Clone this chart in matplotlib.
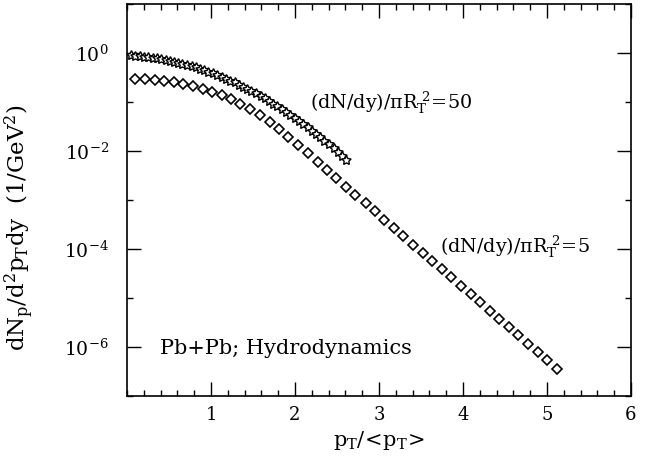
import numpy as np
import matplotlib
matplotlib.use('Agg')
import matplotlib.pyplot as plt
from matplotlib.ticker import FixedLocator, MultipleLocator, LogFormatterSciNotation, NullFormatter

plt.rcParams['font.family'] = ['DejaVu Serif']
plt.rcParams['mathtext.fontset'] = 'dejavuserif'

# (dN/dy)/piR_T^2 = 5 : diamonds
diamond_x = [0.10, 0.21, 0.33, 0.44, 0.56, 0.67, 0.78, 0.90, 1.01, 1.13,
             1.24, 1.35, 1.47, 1.58, 1.70, 1.81, 1.92, 2.04, 2.15, 2.27,
             2.38, 2.49, 2.61, 2.72, 2.84, 2.95, 3.06, 3.18, 3.29, 3.41,
             3.52, 3.63, 3.75, 3.86, 3.98, 4.09, 4.20, 4.32, 4.43, 4.55,
             4.66, 4.77, 4.89, 5.00, 5.12]
diamond_log10y = [-0.53, -0.54, -0.55, -0.58, -0.60, -0.64, -0.68, -0.73, -0.79, -0.86,
                  -0.94, -1.04, -1.15, -1.27, -1.41, -1.55, -1.72, -1.88, -2.05, -2.22,
                  -2.39, -2.56, -2.73, -2.90, -3.07, -3.23, -3.40, -3.57, -3.74, -3.91,
                  -4.08, -4.25, -4.41, -4.58, -4.75, -4.92, -5.09, -5.26, -5.43, -5.60,
                  -5.76, -5.93, -6.10, -6.27, -6.44]

# (dN/dy)/piR_T^2 = 50 : stars
star_x = [0.05, 0.10, 0.15, 0.20, 0.25, 0.31, 0.36, 0.41, 0.46, 0.51,
          0.56, 0.61, 0.66, 0.72, 0.77, 0.82, 0.87, 0.92, 0.97, 1.02,
          1.07, 1.13, 1.18, 1.23, 1.28, 1.33, 1.38, 1.43, 1.48, 1.53,
          1.59, 1.64, 1.69, 1.74, 1.79, 1.84, 1.89, 1.94, 2.00, 2.05,
          2.10, 2.15, 2.20, 2.25, 2.30, 2.35, 2.41, 2.46, 2.51, 2.56,
          2.61]
star_log10y = [-0.050, -0.056, -0.063, -0.072, -0.082, -0.094, -0.107, -0.122, -0.138, -0.156,
               -0.175, -0.196, -0.218, -0.242, -0.267, -0.294, -0.322, -0.352, -0.383, -0.416,
               -0.450, -0.486, -0.523, -0.562, -0.602, -0.644, -0.687, -0.732, -0.778, -0.826,
               -0.875, -0.926, -0.978, -1.032, -1.087, -1.144, -1.202, -1.262, -1.323, -1.386,
               -1.450, -1.516, -1.583, -1.652, -1.722, -1.794, -1.867, -1.942, -2.018, -2.096,
               -2.175]

fig = plt.figure(figsize=(6.56, 4.62), dpi=100)
ax = fig.add_axes([127 / 656, 66 / 462, 504 / 656, 392 / 462])

ax.plot(diamond_x, 10.0 ** np.array(diamond_log10y), ls='none', marker='D', ms=5.4,
        mfc='white', mec='black', mew=1.2)
ax.plot(star_x, 10.0 ** np.array(star_log10y), ls='none', marker=(5, 1, 0), ms=7,
        mfc='white', mec='black', mew=1.0)

ax.set_yscale('log')
ax.set_xlim(0, 6)
ax.set_ylim(1e-7, 10)

ax.xaxis.set_major_locator(FixedLocator([1, 2, 3, 4, 5, 6]))
ax.xaxis.set_minor_locator(MultipleLocator(0.2))
ax.yaxis.set_major_locator(FixedLocator([1e-6, 1e-4, 1e-2, 1e0]))
ax.yaxis.set_minor_locator(FixedLocator([1e-7, 1e-5, 1e-3, 1e-1, 1e1]))
ax.yaxis.set_major_formatter(LogFormatterSciNotation())
ax.yaxis.set_minor_formatter(NullFormatter())

ax.tick_params(which='both', direction='in', top=True, right=True, width=1.0)
ax.tick_params(which='major', length=10)
ax.tick_params(which='minor', length=4)
ax.tick_params(axis='x', which='major', labelsize=13, pad=7)
ax.tick_params(axis='y', which='major', labelsize=13.5, pad=13)
for sp in ax.spines.values():
    sp.set_linewidth(1.2)

ax.set_xlabel(r'$\mathregular{p_T/\!<\!p_T\!>}$', fontsize=15, labelpad=4)
ax.set_ylabel(r'$\mathregular{dN_p/d^2p_Tdy\ \ (1/GeV^2)}$', fontsize=16.5)
ax.yaxis.set_label_coords(-0.18, 0.43)

ax.text(2.18, 10 ** -1.02, r'$\mathregular{(dN/dy)/\pi R_T^{\ 2}\!=\!50}$', fontsize=13.8, va='center')
ax.text(3.73, 10 ** -3.95, r'$\mathregular{(dN/dy)/\pi R_T^{\ 2}\!=\!5}$', fontsize=13.8, va='center')
ax.text(0.39, 10 ** -6.04, 'Pb+Pb; Hydrodynamics', fontsize=15, va='center')

fig.savefig('out.png', dpi=100)
